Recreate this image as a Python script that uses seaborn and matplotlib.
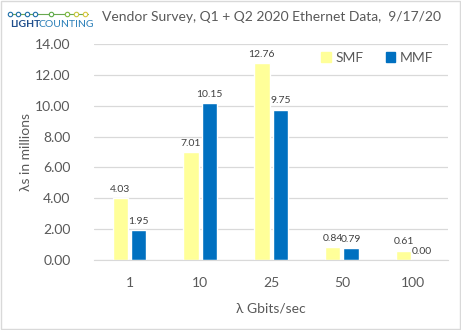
import pandas as pd
import seaborn as sns
import matplotlib.pyplot as plt
from matplotlib.lines import Line2D
from matplotlib.patches import Rectangle

# data
speeds = ["1", "10", "25", "50", "100"]
smf = [4.03, 7.01, 12.76, 0.84, 0.61]
mmf = [1.95, 10.15, 9.75, 0.79, 0.00]
series = ["SMF", "MMF"]
colors = ["#FFFF99", "#0070C0"]

df = pd.DataFrame({
    "speed": speeds * 2,
    "value": smf + mmf,
    "fiber": ["SMF"] * len(speeds) + ["MMF"] * len(speeds),
})

sns.set_style("white")
plt.rcParams["font.family"] = ["Lato", "DejaVu Sans"]
txt = "#595959"

fig = plt.figure(figsize=(4.61, 3.30), dpi=100)
ax = fig.add_axes([0.204, 0.212, 0.768, 0.655])

sns.barplot(data=df, x="speed", y="value", hue="fiber", order=speeds,
            hue_order=series, palette=colors, width=0.52, gap=0.17,
            saturation=1, ax=ax)

for c in ax.containers:
    ax.bar_label(c, fmt="%.2f", padding=3, fontsize=7.5, color="#404040")

ax.set_ylim(0, 14)
ax.set_yticks([0, 2, 4, 6, 8, 10, 12, 14])
ax.set_yticklabels([f"{v:.2f}" for v in ax.get_yticks()])
ax.yaxis.grid(True, color="#D9D9D9", linewidth=0.9)
ax.set_axisbelow(True)
for s in ["left", "right", "top"]:
    ax.spines[s].set_visible(False)
ax.spines["bottom"].set_color("#D9D9D9")
ax.tick_params(axis="both", length=0, labelsize=10, labelcolor=txt, pad=12)
ax.tick_params(axis="y", pad=17)
ax.set_xlabel("λ Gbits/sec", fontsize=10, color=txt, labelpad=10)
ax.set_ylabel("λs in millions", fontsize=10, color=txt, labelpad=2)

handles = [Rectangle((0, 0), 1, 1, color=c) for c in colors]
ax.legend(handles, series, loc="center", bbox_to_anchor=(0.8, 0.935), ncol=2,
          frameon=False, fontsize=10, labelcolor=txt, handlelength=0.7,
          handleheight=0.7, handletextpad=0.3, columnspacing=1.6)

fig.text(0.589, 0.948, "Vendor Survey, Q1 + Q2 2020 Ethernet Data,  9/17/20",
         ha="center", va="center", fontsize=10, color=txt)

# logo
dots_x = [0.022, 0.04, 0.058, 0.076, 0.11, 0.145, 0.165, 0.185]
dot_c = ["#1F6FA8", "#1F6FA8", "#1F6FA8", "#1F6FA8", "#5BAA46", "#7DB93E", "#C8C83C", "#D8C83C"]
fig.add_artist(Line2D([0.02, 0.19], [0.958, 0.958], color="#6AA84F", lw=0.8))
for xd, cd in zip(dots_x, dot_c):
    fig.add_artist(Line2D([xd], [0.958], marker="o", ms=3.2, mfc="white", mec=cd, mew=0.8))
fig.text(0.021, 0.925, "LIGHT", fontsize=7.5, fontweight="bold", color="#1F4E8C", va="center")
fig.text(0.083, 0.925, "COUNTING", fontsize=7.5, color="#2A7FB8", va="center")

fig.add_artist(Rectangle((0.002, 0.003), 0.995, 0.993, fill=False,
                         edgecolor="#D9D9D9", lw=1, transform=fig.transFigure))

fig.savefig("out.png", dpi=100)
